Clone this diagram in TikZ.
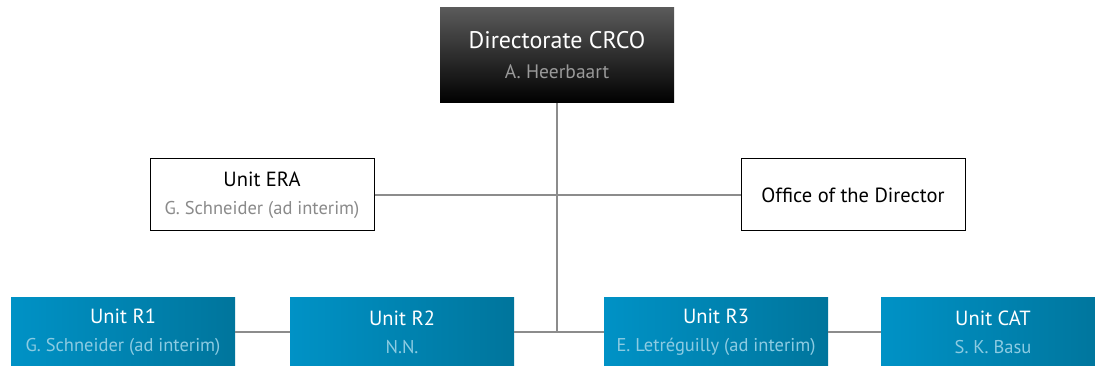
\documentclass[tikz,border=0pt]{standalone}
\usepackage{fontspec}
\setmainfont{PT Sans}
\definecolor{bluel}{HTML}{0092C6}
\definecolor{bluer}{HTML}{00759C}
\definecolor{subblue}{HTML}{8CCBE2}
\definecolor{subgray}{HTML}{8A8A8A}
\definecolor{dirsub}{HTML}{9A9A9A}
\definecolor{linegray}{HTML}{8C8C8C}
\definecolor{dirtop}{HTML}{5A5A5A}
\begin{document}
\begin{tikzpicture}[x=1pt,y=-1pt,
  box/.style={minimum width=224pt,inner sep=0pt,align=center,font=\fontsize{20.5}{28}\selectfont},
  bluebox/.style={box,minimum height=70pt,left color=bluel,right color=bluer,text=white},
  whitebox/.style={box,minimum height=72pt,draw=black,line width=1pt,fill=white,text=black},
  dirbox/.style={minimum width=234pt,minimum height=95pt,inner sep=0pt,align=center,
    top color=dirtop,bottom color=black,text=white,font=\fontsize{24}{30}\selectfont},
  sub/.style={},
  conn/.style={draw=linegray,line width=1.2pt}]
\useasboundingbox (0,0) rectangle (1095,366);
\fill[white] (0,0) rectangle (1095,366);
\node[dirbox] (dir) at (557,55.5) {Directorate CRCO\\{\fontsize{19.5}{20}\selectfont\color{dirsub}A. Heerbaart}};
\node[whitebox] (era) at (262,195) {Unit ERA\\{\fontsize{18.5}{20}\selectfont\color{subgray}G. Schneider (ad interim)}};
\node[whitebox] (off) at (853,195) {Office of the Director};
\node[bluebox] (r1) at (123,332) {Unit R1\\{\fontsize{18.5}{20}\selectfont\color{subblue}G. Schneider (ad interim)}};
\node[bluebox] (r2) at (402,332) {Unit R2\\{\fontsize{18.5}{20}\selectfont\color{subblue}N.N.}};
\node[bluebox] (r3) at (716,332) {Unit R3\\{\fontsize{18.5}{20}\selectfont\color{subblue}E. Letréguilly (ad interim)}};
\node[bluebox] (cat) at (993,332) {Unit CAT\\{\fontsize{18.5}{20}\selectfont\color{subblue}S. K. Basu}};
\coordinate (junc) at (dir.south |- r2.east);
\draw[conn] (dir.south) -- (junc);
\draw[conn] (era.east) -- (off.west);
\draw[conn] (r1.east) -- (r2.west);
\draw[conn] (r2.east) -- (r3.west);
\draw[conn] (r3.east) -- (cat.west);
\end{tikzpicture}
\end{document}
